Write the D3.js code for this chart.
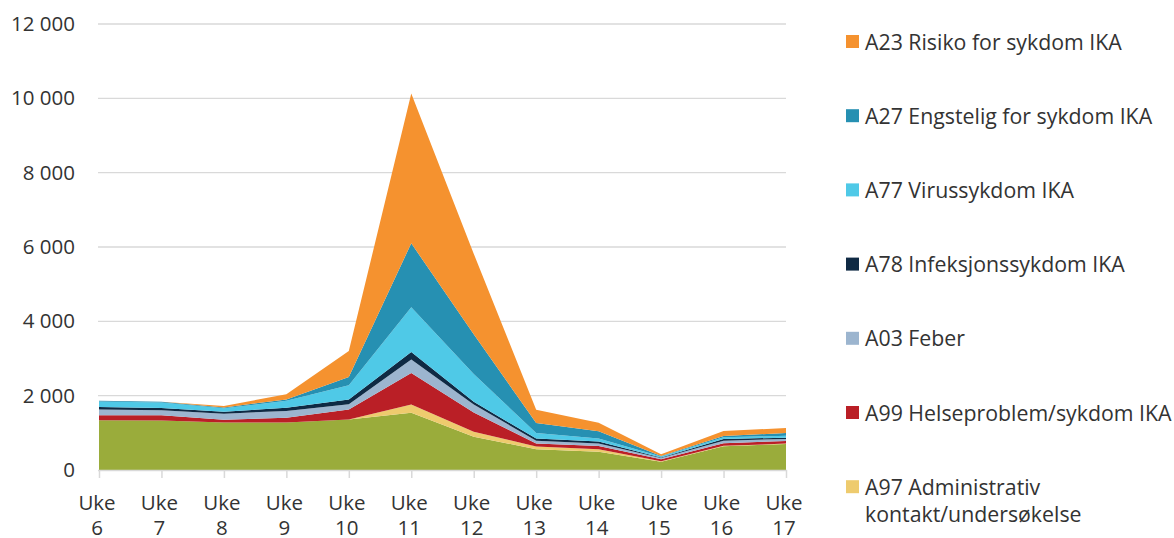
<!DOCTYPE html>
<html>
<head>
<meta charset="utf-8">
<script src="https://cdn.jsdelivr.net/npm/d3@7"></script>
<style>
  html, body { margin: 0; padding: 0; background: #fff; }
  svg { display: block; font-family: "Open Sans", sans-serif; }
</style>
</head>
<body>
<svg id="chart" width="1174" height="538"></svg>
<script>
// ---- Data ----
const weeks = ["Uke 6","Uke 7","Uke 8","Uke 9","Uke 10","Uke 11","Uke 12","Uke 13","Uke 14","Uke 15","Uke 16","Uke 17"];
const annet = [1340, 1335, 1275, 1280, 1360, 1540, 895, 560, 490, 225, 640, 700];
const a97   = [0, 0, 0, 0, 0, 225, 135, 75, 65, 10, 10, 10];
const a99   = [135, 140, 80, 125, 270, 845, 520, 75, 90, 55, 70, 70];
const a03   = [150, 135, 160, 185, 140, 360, 215, 75, 70, 30, 70, 55];
const a78   = [70, 55, 55, 85, 130, 205, 70, 60, 55, 15, 45, 35];
const a77   = [145, 150, 90, 185, 380, 1205, 745, 150, 80, 30, 45, 50];
const a27   = [20, 20, 20, 40, 225, 1720, 1070, 270, 195, 15, 35, 75];
const a23   = [0, 0, 40, 140, 695, 4030, 2170, 355, 225, 45, 135, 135];
const yTicks = [0, 2000, 4000, 6000, 8000, 10000, 12000];

const series = [
  {key: "annet", name: "Annet", values: annet, color: "#9aac3b", legend: false},
  {key: "a97", name: ["A97 Administrativ", "kontakt/undersøkelse"], values: a97, color: "#eecb6e", legend: true},
  {key: "a99", name: ["A99 Helseproblem/sykdom IKA"], values: a99, color: "#ba1f26", legend: true},
  {key: "a03", name: ["A03 Feber"], values: a03, color: "#9cb5cf", legend: true},
  {key: "a78", name: ["A78 Infeksjonssykdom IKA"], values: a78, color: "#0f2a44", legend: true},
  {key: "a77", name: ["A77 Virussykdom IKA"], values: a77, color: "#4fc9e7", legend: true},
  {key: "a27", name: ["A27 Engstelig for sykdom IKA"], values: a27, color: "#2690b2", legend: true},
  {key: "a23", name: ["A23 Risiko for sykdom IKA"], values: a23, color: "#f5922f", legend: true}
];

const table = weeks.map((w, i) => {
  const row = {week: w};
  series.forEach(s => row[s.key] = s.values[i]);
  return row;
});

// ---- Layout ----
const svg = d3.select("#chart");
const x0 = 99, x1 = 786, yTop = 24, yBase = 470;
const textColor = "#333333";

const x = d3.scalePoint().domain(weeks).range([x0, x1]);
const y = d3.scaleLinear().domain([0, 12000]).range([yBase, yTop]);

const loc = d3.formatLocale({decimal: ",", thousands: " ", grouping: [3], currency: ["", ""]});
const fmt = loc.format(",");

// gridlines
svg.append("g").selectAll("line").data(yTicks.filter(d => d > 0)).join("line")
  .attr("x1", x0 - 1).attr("x2", x1)
  .attr("y1", d => y(d)).attr("y2", d => y(d))
  .attr("stroke", "#d9d9d9").attr("stroke-width", 1.3);

// stacked areas
const stack = d3.stack().keys(series.map(s => s.key));
const stacked = stack(table);
const area = d3.area()
  .x(d => x(d.data.week))
  .y0(d => y(d[0]))
  .y1(d => y(d[1]));

svg.append("g").selectAll("path").data(stacked).join("path")
  .attr("d", area)
  .attr("fill", (d, i) => series[i].color);

// y axis labels
const yAxis = d3.axisLeft(y).tickValues(yTicks).tickFormat(fmt).tickSize(0).tickPadding(0);
const gy = svg.append("g").attr("transform", `translate(75,0)`).call(yAxis);
gy.select(".domain").remove();
gy.selectAll("text").attr("font-size", 20.5).attr("fill", textColor)
  .attr("font-family", "'Open Sans', sans-serif");

// x axis
const xAxis = d3.axisBottom(x).tickSize(8).tickFormat("");
const gx = svg.append("g").attr("transform", `translate(0,${yBase})`).call(xAxis);
gx.select(".domain").attr("stroke", "#d9d9d9").attr("stroke-width", 1.5)
  .attr("d", `M${x0 - 1},0.5H${x1 + 1}`);
gx.selectAll(".tick line").attr("stroke", "#d9d9d9").attr("stroke-width", 1.5);

const xl = svg.append("g");
weeks.forEach(w => {
  const parts = w.split(" ");
  const t = xl.append("text")
    .attr("x", x(w) - 2)
    .attr("text-anchor", "middle")
    .attr("font-size", 20.5).attr("fill", textColor);
  t.append("tspan").attr("x", x(w) - 2).attr("y", 510).text(parts[0]);
  t.append("tspan").attr("x", x(w) - 2).attr("y", 535).text(parts[1]);
});

// legend
const legendItems = series.filter(s => s.legend).slice().reverse();
const lg = svg.append("g");
legendItems.forEach((s, i) => {
  const cy = 42 + i * 74.2;
  lg.append("rect").attr("x", 846).attr("y", cy - 7).attr("width", 13).attr("height", 13)
    .attr("fill", s.color);
  const t = lg.append("text").attr("font-size", 21.3).attr("fill", textColor);
  s.name.forEach((line, j) => {
    t.append("tspan").attr("x", 865).attr("y", cy + 7.5 + j * 27.5).text(line);
  });
});
</script>
</body>
</html>
